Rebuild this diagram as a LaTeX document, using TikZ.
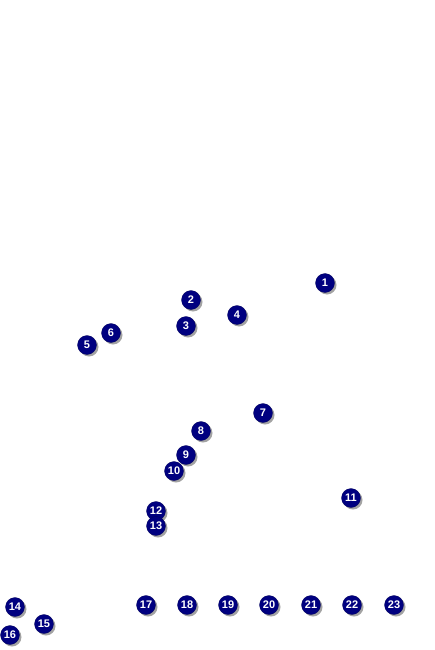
\documentclass[tikz,border=0pt]{standalone}
\usepackage{fontspec}
\setmainfont{Liberation Sans}
\usetikzlibrary{shadows}
\definecolor{navy}{RGB}{0, 0, 128}

\begin{document}
\begin{tikzpicture}[
    x=1pt, y=-1pt,
    spot/.style={circle, fill=navy, draw=navy!70!black, line width=0.3pt, minimum size=19pt, inner sep=0pt,
      text=white, font=\fontsize{11}{11}\selectfont\bfseries,
      drop shadow={shadow xshift=2pt, shadow yshift=-2pt, fill=black!45, opacity=0.8}}
  ]
    \useasboundingbox (0,0) rectangle (435,650);

    \node[spot] (n1) at (325,283) {1};
    \node[spot] (n2) at (191,300) {2};
    \node[spot] (n3) at (186,326) {3};
    \node[spot] (n4) at (237,315) {4};
    \node[spot] (n5) at (87,345) {5};
    \node[spot] (n6) at (111,333) {6};

    \node[spot] (n7) at (263,413) {7};
    \node[spot] (n8) at (201,431) {8};
    \node[spot] (n9) at (186,455) {9};
    \node[spot] (n10) at (174,471) {10};
    \node[spot] (n11) at (351,498) {11};
    \node[spot] (n12) at (156,511) {12};
    \node[spot] (n13) at (156,526) {13};

    \node[spot] (n14) at (15,607) {14};
    \node[spot] (n15) at (44,624) {15};
    \node[spot] (n16) at (10,635) {16};

    \node[spot] (n17) at (146,605) {17};
    \node[spot] (n18) at (187,605) {18};
    \node[spot] (n19) at (228,605) {19};
    \node[spot] (n20) at (269,605) {20};
    \node[spot] (n21) at (311,605) {21};
    \node[spot] (n22) at (352,605) {22};
    \node[spot] (n23) at (394,605) {23};
  \end{tikzpicture}
\end{document}
